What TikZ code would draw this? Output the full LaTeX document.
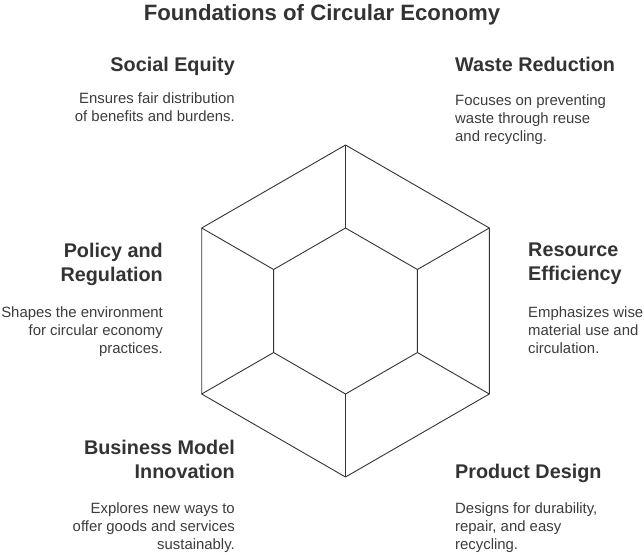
\documentclass[tikz,border=0pt]{standalone}
\usepackage{fontspec}
\setmainfont{Liberation Sans}
\definecolor{headc}{HTML}{333333}
\definecolor{descc}{HTML}{3C3C3C}
\definecolor{linec}{HTML}{333333}
\tikzset{
  hexline/.style={draw=linec, line width=0.9pt, line join=round},
  titletext/.style={font={\fontsize{22.2}{26}\selectfont\bfseries}, text=headc, inner sep=0pt},
  headR/.style={font={\fontsize{19.8}{24}\selectfont\bfseries}, text=headc, inner sep=0pt, align=right, anchor=north east},
  headL/.style={font={\fontsize{19.8}{24}\selectfont\bfseries}, text=headc, inner sep=0pt, align=left, anchor=north west},
  descR/.style={font={\fontsize{14.9}{18}\selectfont}, text=descc, inner sep=0pt, align=right, anchor=north east},
  descL/.style={font={\fontsize{14.9}{18}\selectfont}, text=descc, inner sep=0pt, align=left, anchor=north west},
}
\begin{document}
\begin{tikzpicture}[x=1pt,y=-1pt]
\useasboundingbox (0,0) rectangle (644,554);
% title
\node[titletext, anchor=base] (title) at (322,20) {Foundations of Circular Economy};
% hexagon coordinates
\coordinate (o1) at (345.5,145);
\coordinate (o2) at (489.3,228);
\coordinate (o3) at (489.3,394);
\coordinate (o4) at (345.5,477);
\coordinate (o5) at (201.7,394);
\coordinate (o6) at (201.7,228);
\coordinate (i1) at (345.5,228);
\coordinate (i2) at (417.4,269.5);
\coordinate (i3) at (417.4,352.5);
\coordinate (i4) at (345.5,394);
\coordinate (i5) at (273.6,352.5);
\coordinate (i6) at (273.6,269.5);
\draw[hexline] (o1) -- (o2) -- (o3) -- (o4) -- (o5) -- (o6) -- cycle;
\draw[hexline] (i1) -- (i2) -- (i3) -- (i4) -- (i5) -- (i6) -- cycle;
\foreach \k in {1,...,6} { \draw[hexline] (o\k) -- (i\k); }
% Social Equity
\node[headR] (seh) at (235,56.6) {Social Equity};
\node[descR] (sed) at (235,92.2) {Ensures fair distribution\\of benefits and burdens.};
% Waste Reduction
\node[headL] (wrh) at (455,56.6) {Waste Reduction};
\node[descL] (wrd) at (455,94.8) {Focuses on preventing\\waste through reuse\\and recycling.};
% Policy and Regulation
\node[headR] (prh) at (163,242.6) {Policy and\\Regulation};
\node[descR] (prd) at (163,306.2) {Shapes the environment\\for circular economy\\practices.};
% Resource Efficiency
\node[headL] (reh) at (528,242.6) {Resource\\Efficiency};
\node[descL] (red) at (528,306.2) {Emphasizes wise\\material use and\\circulation.};
% Business Model Innovation
\node[headR] (bmh) at (235,439.6) {Business Model\\Innovation};
\node[descR] (bmd) at (235,502.2) {Explores new ways to\\offer goods and services\\sustainably.};
% Product Design
\node[headL] (pdh) at (455,463.6) {Product Design};
\node[descL] (pdd) at (455,502.2) {Designs for durability,\\repair, and easy\\recycling.};
\end{tikzpicture}
\end{document}
